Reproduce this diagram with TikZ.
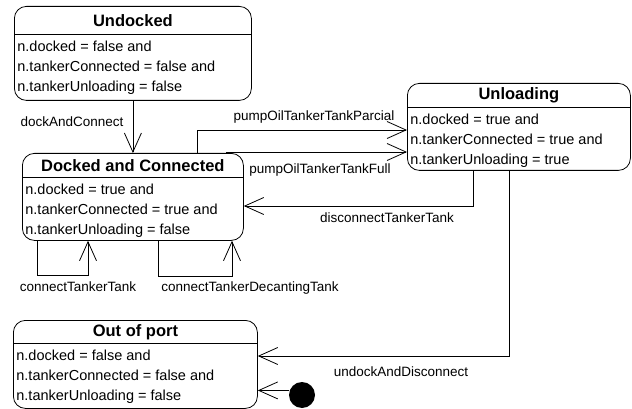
\documentclass[tikz,border=0pt]{standalone}
\usepackage{fontspec}
\setmainfont{Liberation Sans}
\usetikzlibrary{positioning,arrows.meta}

\begin{document}
\begin{tikzpicture}[x=1pt, y=-1pt, line width=0.8pt,
	state/.style = {draw, rounded corners=12pt, anchor=north west, inner sep=0pt},
	title/.style = {anchor=north, inner sep=0pt, font=\fontsize{16.5}{18}\selectfont\bfseries},
	body/.style = {anchor=north west, align=left, inner xsep=3pt, inner ysep=5.5pt, font=\fontsize{14.5}{20}\selectfont},
	lbl/.style = {font=\fontsize{13.5}{16}\selectfont},
	trans/.style = {-{Straight Barb[length=19pt,width=17pt]}}]
		\useasboundingbox (0,0) rectangle (632,409);
		% states
		\node[state, minimum width=237pt, minimum height=94pt] (undocked) at (14,6) {};
		\node[title, minimum height=28pt] (undockedT) at (undocked.north) {Undocked};
		\draw (undocked.west |- undockedT.south) -- (undocked.east |- undockedT.south);
		\node[body] (undockedB) at (undocked.west |- undockedT.south) {n.docked = false and\\n.tankerConnected = false and\\n.tankerUnloading = false};

		\node[state, minimum width=221pt, minimum height=87pt] (docked) at (22,153) {};
		\node[title, minimum height=24pt] (dockedT) at (docked.north) {Docked and Connected};
		\draw (docked.west |- dockedT.south) -- (docked.east |- dockedT.south);
		\node[body] (dockedB) at (docked.west |- dockedT.south) {n.docked = true and\\n.tankerConnected = true and\\n.tankerUnloading = false};

		\node[state, minimum width=223pt, minimum height=87pt] (unloading) at (407,83) {};
		\node[title, minimum height=24pt] (unloadingT) at (unloading.north) {Unloading};
		\draw (unloading.west |- unloadingT.south) -- (unloading.east |- unloadingT.south);
		\node[body] (unloadingB) at (unloading.west |- unloadingT.south) {n.docked = true and\\n.tankerConnected = true and\\n.tankerUnloading = true};

		\node[state, minimum width=244pt, minimum height=88pt] (outport) at (13,320) {};
		\node[title, minimum height=23pt] (outportT) at (outport.north) {Out of port};
		\draw (outport.west |- outportT.south) -- (outport.east |- outportT.south);
		\node[body] (outportB) at (outport.west |- outportT.south) {n.docked = false and\\n.tankerConnected = false and\\n.tankerUnloading = false};

		\node[circle, fill, inner sep=0pt, minimum size=26pt] (start) at (302,395) {};

		% bend points
		\coordinate (parcial) at (197,130);
		\coordinate (full) at (226,152);
		\coordinate (disc) at (473,206);
		\coordinate (undock) at (509,356);
		\coordinate (loopA1) at (37,275);
		\coordinate (loopA2) at (88,275);
		\coordinate (loopB1) at (158,276);
		\coordinate (loopB2) at (232,276);

		% transitions
		\draw[trans] (undocked.south) -- (docked.north);
		\draw[trans] (docked.north -| parcial) -- (parcial) -- (parcial -| unloading.west);
		\draw[trans] (full) -- (full -| unloading.west);
		\draw[trans] (unloading.south -| disc) -- (disc) -- (disc -| docked.east);
		\draw[trans] (unloading.south -| undock) -- (undock) -- (undock -| outport.east);
		\draw[trans] (start.160) -- (start.160 -| outport.east);
		\draw[trans] (docked.south -| loopA1) -- (loopA1) -- (loopA2) -- (docked.south -| loopA2);
		\draw[trans] (docked.south -| loopB1) -- (loopB1) -- (loopB2) -- (docked.south -| loopB2);

		% labels
		\node[lbl] (l1) at (72,122) {dockAndConnect};
		\node[lbl] (l2) at (314,117) {pumpOilTankerTankParcial};
		\node[lbl] (l3) at (320,170) {pumpOilTankerTankFull};
		\node[lbl] (l4) at (387,218) {disconnectTankerTank};
		\node[lbl] (l5) at (401,372) {undockAndDisconnect};
		\node[lbl] (l6) at (78,287) {connectTankerTank};
		\node[lbl] (l7) at (250,288) {connectTankerDecantingTank};
	\end{tikzpicture}
\end{document}
